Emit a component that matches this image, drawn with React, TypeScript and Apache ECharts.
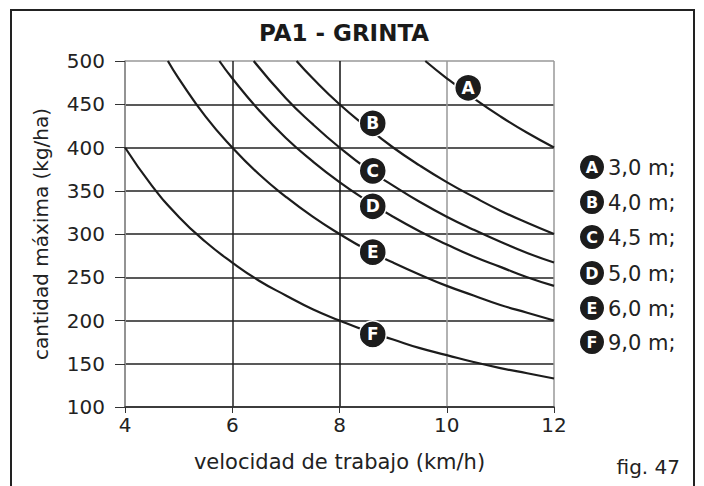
import React, { useEffect, useRef } from "react";
import * as echarts from "echarts";

const xTicks = [4, 6, 8, 10, 12];
const yTicks = [100, 150, 200, 250, 300, 350, 400, 450, 500];

const curveA: [number, number][] = [[9.6, 500], [10, 480], [10.5, 457], [11, 436], [11.5, 417], [12, 400]];
const curveB: [number, number][] = [[7.2, 500], [7.5, 480], [8, 450], [8.5, 424], [9, 400], [9.5, 379], [10, 360], [10.5, 343], [11, 327], [11.5, 313], [12, 300]];
const curveC: [number, number][] = [[6.4, 500], [7, 457], [7.5, 427], [8, 400], [8.5, 376], [9, 356], [9.5, 337], [10, 320], [10.5, 305], [11, 291], [11.5, 278], [12, 267]];
const curveD: [number, number][] = [[5.76, 500], [6, 480], [6.5, 443], [7, 411], [7.5, 384], [8, 360], [8.5, 339], [9, 320], [9.5, 303], [10, 288], [10.5, 274], [11, 262], [11.5, 250], [12, 240]];
const curveE: [number, number][] = [[4.8, 500], [5, 480], [5.5, 436], [6, 400], [6.5, 369], [7, 343], [7.5, 320], [8, 300], [8.5, 282], [9, 267], [9.5, 253], [10, 240], [10.5, 229], [11, 218], [11.5, 209], [12, 200]];
const curveF: [number, number][] = [[4, 400], [4.5, 356], [5, 320], [5.5, 291], [6, 267], [6.5, 246], [7, 229], [7.5, 213], [8, 200], [8.5, 188], [9, 178], [9.5, 168], [10, 160], [10.5, 152], [11, 145], [11.5, 139], [12, 133]];

const curveLetters = ["A", "B", "C", "D", "E", "F"];
const curveWidths = ["3,0 m;", "4,0 m;", "4,5 m;", "5,0 m;", "6,0 m;", "9,0 m;"];
const labelPositions: [number, number][] = [[10.4, 469], [8.62, 428], [8.62, 373], [8.62, 332], [8.62, 279], [8.62, 184]];

const FONT = "'DejaVu Sans', 'Liberation Sans', Arial, sans-serif";
const DARK = "#1c1c1c";

export default function App() {
  const ref = useRef<HTMLDivElement>(null);
  useEffect(() => {
    if (!ref.current) return;
    const chart = echarts.init(ref.current, undefined, { renderer: "svg" });
    const curves = [curveA, curveB, curveC, curveD, curveE, curveF];
    const legendRowsY = [167, 202, 237, 273, 308, 342];
    const legendGraphics: any[] = [];
    curveLetters.forEach((l, i) => {
      legendGraphics.push({
        type: "circle",
        shape: { cx: 592, cy: legendRowsY[i], r: 12 },
        style: { fill: DARK },
      });
      legendGraphics.push({
        type: "text",
        x: 592,
        y: legendRowsY[i] + 0.5,
        style: { text: l, fill: "#fff", font: `bold 16px ${FONT}`, align: "center", verticalAlign: "middle" },
      });
      legendGraphics.push({
        type: "text",
        x: 608,
        y: legendRowsY[i] + 1,
        style: { text: curveWidths[i], fill: "#222", font: `21px ${FONT}`, align: "left", verticalAlign: "middle" },
      });
    });
    chart.setOption({
      animation: false,
      backgroundColor: "#fff",
      textStyle: { fontFamily: FONT },
      title: {
        text: "PA1 - GRINTA",
        left: 339,
        top: 16,
        textAlign: "center",
        textStyle: { fontFamily: FONT, fontWeight: "bold", fontSize: 23, color: "#1a1a1a" },
      },
      grid: { left: 125, right: 150, top: 61, bottom: 79 },
      xAxis: {
        type: "value",
        min: 4,
        max: 12,
        interval: 2,
        name: "velocidad de trabajo (km/h)",
        nameLocation: "middle",
        nameGap: 44,
        nameTextStyle: { fontFamily: FONT, fontSize: 21, color: "#222" },
        axisLine: { show: true, lineStyle: { color: "#333", width: 1.5 } },
        axisTick: { show: true, length: 6, lineStyle: { color: "#333" } },
        axisLabel: {
          fontFamily: FONT,
          fontSize: 20,
          color: "#222",
          margin: 8,
          formatter: (v: number) => (xTicks.includes(v) ? String(v) : ""),
        },
        splitLine: { show: true, lineStyle: { color: ["#999", "#222", "#111", "#999", "#999"], width: 1.5 } },
      },
      yAxis: {
        type: "value",
        min: 100,
        max: 500,
        interval: 50,
        name: "cantidad máxima (kg/ha)",
        nameLocation: "middle",
        nameGap: 74,
        nameTextStyle: { fontFamily: FONT, fontSize: 20, color: "#222" },
        axisLine: { show: true, lineStyle: { color: "#888", width: 1.5 } },
        axisTick: { show: true, length: 10, lineStyle: { color: "#333" } },
        axisLabel: {
          fontFamily: FONT,
          fontSize: 20,
          color: "#222",
          margin: 20,
          formatter: (v: number) => (yTicks.includes(v) ? String(v) : ""),
        },
        splitLine: {
          show: true,
          lineStyle: { color: ["#222", "#222", "#222", "#222", "#222", "#222", "#222", "#222", "#999"], width: 1.5 },
        },
      },
      series: [
        ...curves.map((c, i) => ({
          type: "line",
          name: curveLetters[i],
          data: c,
          smooth: true,
          symbol: "none",
          lineStyle: { color: DARK, width: 2.2 },
          z: 3,
        })),
        {
          type: "scatter",
          data: labelPositions.map((p, i) => ({ value: p, name: curveLetters[i] })),
          symbol: "circle",
          symbolSize: 27,
          itemStyle: { color: DARK, borderColor: "#fff", borderWidth: 1.5, opacity: 1 },
          label: {
            show: true,
            position: "inside",
            formatter: (p: any) => p.name,
            color: "#fff",
            fontFamily: FONT,
            fontWeight: "bold",
            fontSize: 17,
          },
          z: 5,
        },
      ],
      graphic: [
        {
          type: "rect",
          shape: { x: 11, y: 10, width: 683, height: 490 },
          style: { fill: "none", stroke: "#222", lineWidth: 2 },
          silent: true,
        },
        ...legendGraphics,
        {
          type: "text",
          x: 680,
          y: 467,
          style: { text: "fig. 47", fill: "#222", font: `20px ${FONT}`, align: "right", verticalAlign: "middle" },
        },
      ],
    });
    return () => chart.dispose();
  }, []);
  return <div ref={ref} style={{ width: 704, height: 486, position: "absolute", left: 0, top: 0 }} />;
}
